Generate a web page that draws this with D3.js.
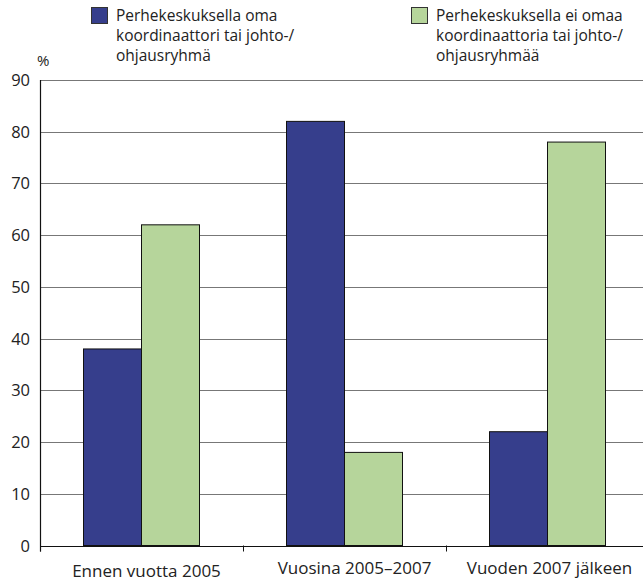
<!DOCTYPE html>
<html><head><meta charset="utf-8">
<script src="https://cdn.jsdelivr.net/npm/d3@7"></script>
<style>body{margin:0;background:#fff}svg{display:block}text{font-family:"Open Sans",sans-serif;fill:#222}</style>
</head><body><svg id="c" width="643" height="583"></svg>
<script>
const categories = ["Ennen vuotta 2005", "Vuosina 2005–2007", "Vuoden 2007 jälkeen"];
const seriesNames = [
  ["Perhekeskuksella oma", "koordinaattori tai johto-/", "ohjausryhmä"],
  ["Perhekeskuksella ei omaa", "koordinaattoria tai johto-/", "ohjausryhmää"]
];
const withCoordinator = [38, 82, 22];
const withoutCoordinator = [62, 18, 78];
const yTicks = [0,10,20,30,40,50,60,70,80,90];
const colors = ["#363e8c", "#b6d59b"];

const svg = d3.select("#c");
const x = d3.scaleBand().domain(categories).range([40, 649]).paddingInner(0).paddingOuter(0);
const y = d3.scaleLinear().domain([0, 90]).range([545.5, 80]);
const sub = d3.scaleBand().domain([0,1]).range([0, 116]);
const off = (x.bandwidth() - 116) / 2;

// gridlines
svg.append("g").selectAll("line").data(yTicks.filter(d=>d>0)).join("line")
  .attr("x1", 40).attr("x2", 643).attr("y1", d=>Math.round(y(d))+0.5).attr("y2", d=>Math.round(y(d))+0.5)
  .attr("stroke", "#777").attr("stroke-width", 1.2);

// y labels
svg.append("g").selectAll("text").data(yTicks).join("text")
  .attr("x", 30).attr("y", d=>y(d)+6).attr("text-anchor","end").attr("font-size",16.5).text(d=>d);

// bars
const data = [withCoordinator, withoutCoordinator];
data.forEach((vals, si) => {
  svg.append("g").selectAll("rect").data(vals).join("rect")
    .attr("x", (d,i)=>x(categories[i]) + off + sub(si))
    .attr("width", sub.bandwidth())
    .attr("y", d=>y(d))
    .attr("height", d=>y(0)-y(d))
    .attr("fill", colors[si]).attr("stroke", "#111").attr("stroke-width", 1);
});

// axes
svg.append("line").attr("x1",40.5).attr("x2",40.5).attr("y1",y(90)).attr("y2",y(0)+6).attr("stroke","#111").attr("stroke-width",1.2);
svg.append("line").attr("x1",40).attr("x2",643).attr("y1",Math.round(y(0))+0.5).attr("y2",Math.round(y(0))+0.5).attr("stroke","#111").attr("stroke-width",1.2);
svg.append("g").selectAll("line").data(categories).join("line")
  .attr("x1", d=>x(d)+0.5).attr("x2", d=>x(d)+0.5).attr("y1", y(0)).attr("y2", y(0)+6).attr("stroke","#111");

// category labels
const labelY = [577, 574, 574];
const labelShift = [5, 10, 2];
svg.append("g").selectAll("text").data(categories).join("text")
  .attr("x", (d,i)=>x(d)+x.bandwidth()/2 + labelShift[i]).attr("y", (d,i)=>labelY[i])
  .attr("text-anchor","middle").attr("font-size",17).text(d=>d);

// % label
svg.append("text").attr("x", 37).attr("y", 66).attr("font-size", 15).text("%");

// legend
const legX = [91, 411];
seriesNames.forEach((lines, si) => {
  svg.append("rect").attr("x", legX[si]+0.5).attr("y", 7.5).attr("width", 16).attr("height", 16)
    .attr("fill", colors[si]).attr("stroke", "#333");
  svg.append("g").selectAll("text").data(lines).join("text")
    .attr("x", legX[si]+25).attr("y", (d,i)=>21 + i*20).attr("font-size",15.5).text(d=>d);
});
</script></body></html>
